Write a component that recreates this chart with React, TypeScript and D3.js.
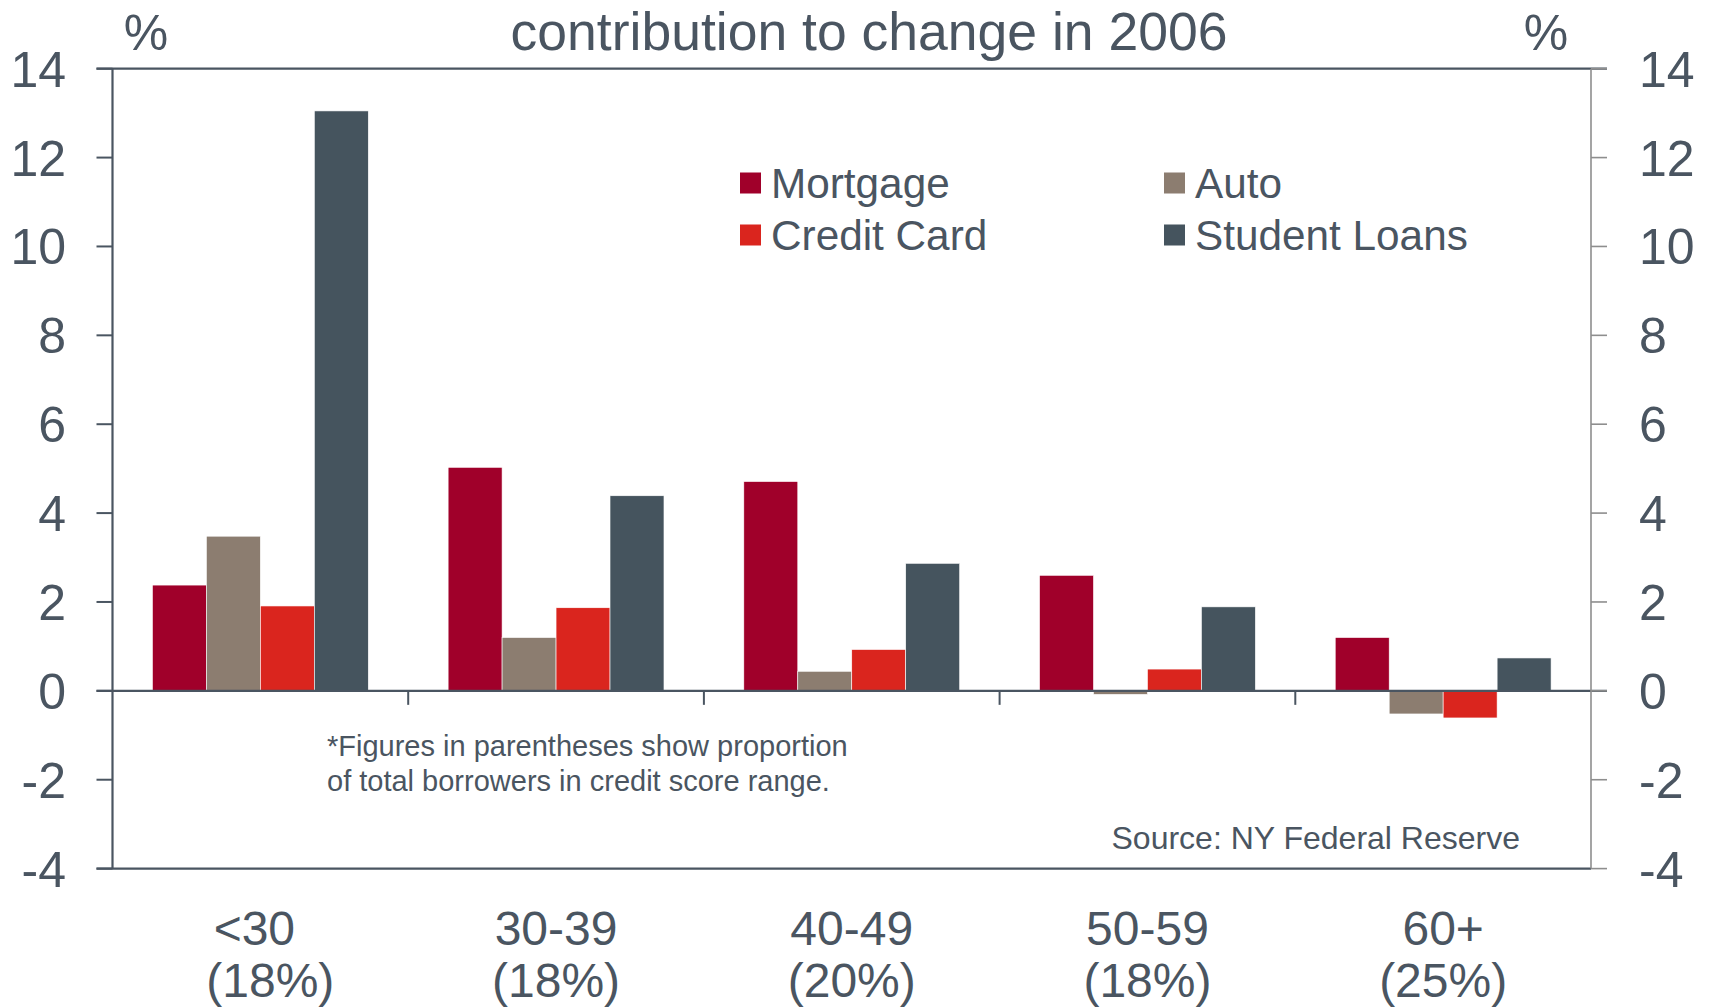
import React, { useEffect } from 'react'
import * as d3 from 'd3'

// credit score ranges, with share of borrowers
const categories = ['<30', '30-39', '40-49', '50-59', '60+']
const shares = ['(18%)', '(18%)', '(20%)', '(18%)', '(25%)']
const seriesNames = ['Mortgage', 'Auto', 'Credit Card', 'Student Loans']

// contribution to change in 2006, %
const mortgage = [2.38, 5.03, 4.71, 2.6, 1.2]
const auto = [3.48, 1.2, 0.44, -0.08, -0.52]
const creditCard = [1.91, 1.87, 0.93, 0.49, -0.61]
const studentLoans = [13.05, 4.39, 2.87, 1.89, 0.74]

const yTicks = [14, 12, 10, 8, 6, 4, 2, 0, -2, -4]

const colors = ['#A0002A', '#8C7D70', '#DA251E', '#45545E']
const ink = '#4A5561'
const font = '"Liberation Sans", Arial, sans-serif'

const width = 1711
const height = 1008
const left = 112.5
const right = 1591
const top = 68.7
const bottom = 868.6

export default function App() {
  useEffect(() => {
    document.body.style.margin = '0'
  }, [])

  const values = [mortgage, auto, creditCard, studentLoans]

  const x0 = d3.scaleBand().domain(categories).range([left, right]).padding(0)
  const bw = x0.bandwidth()
  const groupRatio = 0.73
  const x1 = d3.scaleBand()
    .domain(seriesNames)
    .range([bw * (1 - groupRatio) / 2, bw * (1 + groupRatio) / 2])
    .padding(0)
  const y = d3.scaleLinear().domain([-4, 14]).range([bottom, top])

  const tickLen = 16

  return (
    <svg width={width} height={height} style={{ display: 'block', background: '#fff' }} fontFamily={font}>
      {/* bars */}
      {values.map((vals, si) => (
        <g key={seriesNames[si]} fill={colors[si]}>
          {vals.map((v, ci) => (
            <rect
              key={categories[ci]}
              x={x0(categories[ci])! + x1(seriesNames[si])!}
              y={y(Math.max(0, v))}
              width={x1.bandwidth()}
              height={Math.abs(y(v) - y(0))}
              stroke="#fff"
              strokeWidth={0.6}
            />
          ))}
        </g>
      ))}

      {/* frame */}
      <line x1={left - tickLen} x2={right + tickLen} y1={top} y2={top} stroke={ink} strokeWidth={2.2} />
      <line x1={left - tickLen} x2={right} y1={bottom} y2={bottom} stroke={ink} strokeWidth={2.2} />
      <line x1={left - tickLen} x2={right + tickLen} y1={y(0)} y2={y(0)} stroke={ink} strokeWidth={2.2} />
      <line x1={left} x2={left} y1={top} y2={bottom} stroke={ink} strokeWidth={2.2} />
      <line x1={right} x2={right} y1={top} y2={bottom} stroke="#8E8E8E" strokeWidth={1.6} />

      {/* y ticks both sides */}
      {yTicks.map(t => (
        <g key={t}>
          <line x1={left - tickLen} x2={left} y1={y(t)} y2={y(t)} stroke={ink} strokeWidth={2} />
          <line x1={right} x2={right + tickLen} y1={y(t)} y2={y(t)} stroke="#8E8E8E" strokeWidth={1.6} />
          <text x={66} y={y(t)} dy="0.36em" textAnchor="end" fontSize={50} fill={ink}>{t}</text>
          <text x={1639} y={y(t)} dy="0.36em" textAnchor="start" fontSize={50} fill={ink}>{t}</text>
        </g>
      ))}

      {/* category separators below zero */}
      {categories.slice(1).map(c => (
        <line key={c} x1={x0(c)!} x2={x0(c)!} y1={y(0)} y2={y(0) + 14} stroke={ink} strokeWidth={2} />
      ))}

      {/* category labels */}
      {categories.map((c, i) => (
        <g key={c} fontSize={48} fill={ink} textAnchor="middle">
          <text x={x0(c)! + bw / 2 - (i === 0 ? 6 : 0)} y={945}>{c}</text>
          <text x={x0(c)! + bw / 2 + (i === 0 ? 10 : 0)} y={997}>{shares[i]}</text>
        </g>
      ))}

      {/* title and units */}
      <text x={869} y={50} textAnchor="middle" fontSize={53.5} fill={ink}>contribution to change in 2006</text>
      <text x={146} y={50} textAnchor="middle" fontSize={50} fill={ink}>%</text>
      <text x={1546} y={50} textAnchor="middle" fontSize={50} fill={ink}>%</text>

      {/* legend */}
      {seriesNames.map((s, i) => {
        const col = i % 2
        const row = Math.floor(i / 2)
        const lx = col === 0 ? 740 : 1164
        const ly = 183 + row * 52
        return (
          <g key={s}>
            <rect x={lx} y={ly - 10.5} width={21} height={21} fill={colors[i]} />
            <text x={lx + 31} y={ly} dy="0.36em" fontSize={42.3} fill={ink}>{s}</text>
          </g>
        )
      })}

      {/* notes */}
      <text x={327} y={746} dy="0.36em" fontSize={29} fill={ink}>*Figures in parentheses show proportion</text>
      <text x={327} y={781} dy="0.36em" fontSize={29} fill={ink}>of total borrowers in credit score range.</text>
      <text x={1520} y={837} dy="0.36em" textAnchor="end" fontSize={32} fill={ink}>Source: NY Federal Reserve</text>
    </svg>
  )
}
